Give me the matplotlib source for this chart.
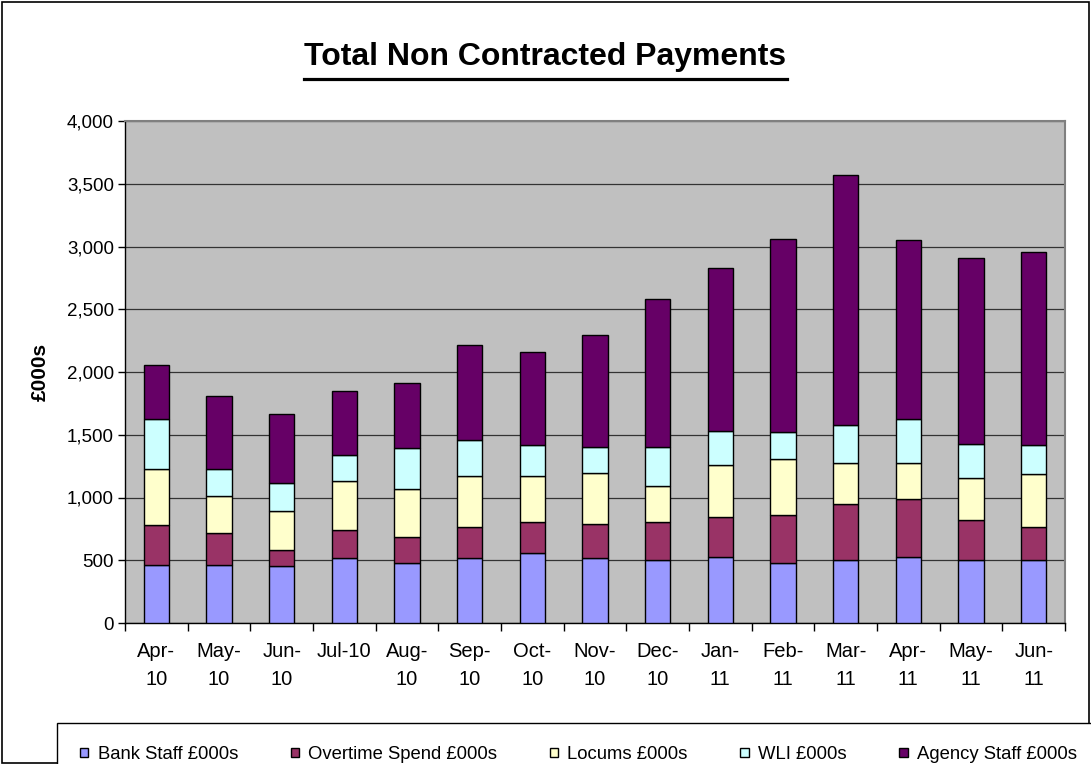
import numpy as np
import matplotlib.pyplot as plt
from matplotlib.patches import Rectangle
from matplotlib.lines import Line2D

plt.rcParams['font.family'] = ['Liberation Sans', 'DejaVu Sans']

months = ["Apr-\n10", "May-\n10", "Jun-\n10", "Jul-10", "Aug-\n10", "Sep-\n10", "Oct-\n10",
          "Nov-\n10", "Dec-\n10", "Jan-\n11", "Feb-\n11", "Mar-\n11", "Apr-\n11", "May-\n11", "Jun-\n11"]

bank = [462, 462, 452, 515, 481, 515, 558, 515, 502, 529, 478, 505, 529, 505, 505]
overtime = [319, 253, 130, 226, 207, 253, 249, 274, 303, 316, 380, 443, 459, 316, 263]
locums = [444, 297, 313, 390, 380, 403, 364, 404, 287, 417, 446, 330, 290, 337, 417]
wli = [400, 213, 223, 208, 324, 287, 245, 212, 310, 270, 218, 297, 351, 271, 231]
agency = [431, 586, 550, 512, 523, 757, 746, 887, 1177, 1297, 1540, 1995, 1420, 1479, 1540]

series = [("Bank Staff £000s", bank, "#9999FF"),
          ("Overtime Spend £000s", overtime, "#993366"),
          ("Locums £000s", locums, "#FFFFCC"),
          ("WLI £000s", wli, "#CCFFFF"),
          ("Agency Staff £000s", agency, "#660066")]

W, H = 1091, 764
fig = plt.figure(figsize=(W/100, H/100), dpi=100)
ax = fig.add_axes([125/W, 141/H, 940/W, 502/H])
ax.set_facecolor("#C0C0C0")

x = np.arange(len(months))
bottom = np.zeros(len(months))
handles = []
for name, vals, col in series:
    b = ax.bar(x, vals, 0.4, bottom=bottom, color=col, edgecolor="black", linewidth=1.0,
               label=name, zorder=3)
    bottom += np.array(vals)
    handles.append(b)

ax.set_xlim(-0.5, len(months) - 0.5)
ax.set_ylim(0, 4000)
ax.set_yticks(np.arange(0, 4001, 500))
ax.set_yticklabels([f"{v:,}" for v in range(0, 4001, 500)], fontsize=13.5)
ax.yaxis.grid(True, color="#333333", linewidth=0.9, zorder=0)
ax.tick_params(axis="y", direction="out", length=5, width=1, pad=3)

ax.set_xticks(x)
ax.set_xticklabels(months, fontsize=14.5, linespacing=1.6)
ax.set_xticks(np.arange(len(months) + 1) - 0.5, minor=True)
ax.tick_params(axis="x", which="major", length=0, pad=14)
ax.tick_params(axis="x", which="minor", direction="out", length=6, width=1)

for s in ["top", "right"]:
    ax.spines[s].set_color("#808080")
    ax.spines[s].set_linewidth(1.5)
ax.spines["left"].set_linewidth(1)
ax.spines["bottom"].set_linewidth(1)

fig.text(40/W, 1 - 372/H, "£000s", rotation=90, ha="center", va="center",
         fontsize=15, fontweight="bold")

t = fig.text(0.5, 1 - 57/H, "Total Non Contracted Payments", ha="center", va="center",
             fontsize=23, fontweight="bold")
fig.canvas.draw()
bb = t.get_window_extent().transformed(fig.transFigure.inverted())
fig.add_artist(Line2D([bb.x0, bb.x1], [1 - 79/H, 1 - 79/H], color="black",
                      linewidth=2.3, transform=fig.transFigure))

leg = fig.legend(handles=handles, loc="upper left", ncol=5,
                 bbox_to_anchor=(57/W, 1 - 723/H), borderaxespad=0,
                 fontsize=13.3, fancybox=False, edgecolor="black", framealpha=1,
                 handlelength=0.45, handleheight=0.45, handletextpad=0.5,
                 columnspacing=2.85, borderpad=1.25)
leg.get_frame().set_linewidth(1)

fig.add_artist(Rectangle((0.002, 0.001), 0.996, 0.997, transform=fig.transFigure,
                         fill=False, edgecolor="black", linewidth=1.2))

fig.savefig("out.png", dpi=100)
